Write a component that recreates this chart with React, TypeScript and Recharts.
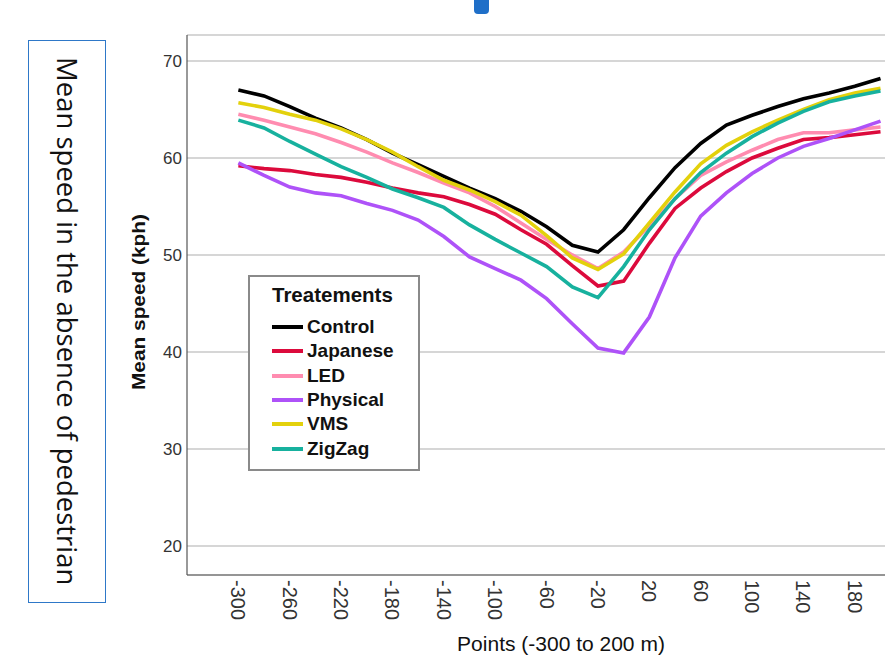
import React from 'react';
import { LineChart, Line, XAxis, YAxis, CartesianGrid, Legend, Label } from 'recharts';

// distance from crossing (m)
const points = [-300, -280, -260, -240, -220, -200, -180, -160, -140, -120, -100, -80, -60, -40, -20, 0, 20, 40, 60, 80, 100, 120, 140, 160, 180, 200];

const control = [67.0, 66.4, 65.3, 64.1, 63.1, 61.9, 60.5, 59.3, 58.1, 56.9, 55.8, 54.5, 52.9, 51.0, 50.3, 52.6, 55.9, 59.0, 61.5, 63.4, 64.4, 65.3, 66.1, 66.7, 67.4, 68.2];
const japanese = [59.2, 58.9, 58.7, 58.3, 58.0, 57.5, 56.9, 56.4, 56.0, 55.2, 54.2, 52.6, 51.1, 48.9, 46.8, 47.3, 51.2, 54.8, 56.9, 58.6, 60.0, 61.0, 61.9, 62.1, 62.4, 62.7];
const led = [64.5, 63.9, 63.2, 62.5, 61.6, 60.6, 59.5, 58.5, 57.4, 56.4, 55.0, 53.3, 51.6, 50.0, 48.6, 50.3, 53.0, 55.8, 58.2, 59.6, 60.8, 61.9, 62.6, 62.6, 62.9, 63.2];
const physical = [59.5, 58.2, 57.0, 56.4, 56.1, 55.3, 54.6, 53.6, 51.9, 49.8, 48.6, 47.4, 45.5, 42.9, 40.4, 39.9, 43.6, 49.7, 54.0, 56.4, 58.4, 60.0, 61.2, 62.0, 62.9, 63.8];
const vms = [65.7, 65.2, 64.5, 63.9, 63.0, 61.9, 60.6, 59.1, 57.7, 56.7, 55.5, 54.1, 52.0, 49.7, 48.5, 50.1, 53.3, 56.5, 59.4, 61.3, 62.7, 63.9, 65.0, 66.0, 66.7, 67.2];
const zigzag = [63.9, 63.1, 61.7, 60.4, 59.1, 58.0, 56.8, 55.9, 54.9, 53.1, 51.6, 50.2, 48.8, 46.7, 45.6, 48.8, 52.6, 55.8, 58.5, 60.5, 62.2, 63.6, 64.8, 65.8, 66.4, 66.9];

const xTicks = [-300, -260, -220, -180, -140, -100, -60, -20, 20, 60, 100, 140, 180];
const yTicks = [20, 30, 40, 50, 60, 70];

const series = [
  { name: 'Control', color: '#000000', values: control },
  { name: 'Japanese', color: '#DC0A3C', values: japanese },
  { name: 'LED', color: '#FF8CB0', values: led },
  { name: 'Physical', color: '#AE52F8', values: physical },
  { name: 'VMS', color: '#E3D10C', values: vms },
  { name: 'ZigZag', color: '#17B19E', values: zigzag },
];

const data = points.map((p, i) => {
  const row: Record<string, number> = { point: p };
  series.forEach((s) => {
    row[s.name] = s.values[i];
  });
  return row;
});

const FONT = '"Liberation Sans", Arial, sans-serif';

const XTick = (props: any) => {
  const { x, y, payload } = props;
  const ty = y + 1;
  return (
    <text
      x={x}
      y={ty}
      transform={`rotate(90, ${x}, ${ty})`}
      textAnchor="start"
      dominantBaseline="central"
      fontSize={20}
      fontFamily={FONT}
      fill="#333"
    >
      {payload.value}
    </text>
  );
};

const LegendBox = () => (
  <div
    style={{
      width: 172,
      height: 196,
      border: '2px solid #8a8a8a',
      background: '#fff',
      fontFamily: FONT,
      boxSizing: 'border-box',
      paddingLeft: 22,
      paddingTop: 6,
    }}
  >
    <div style={{ fontSize: 20.5, fontWeight: 'bold', color: '#111', marginBottom: 8, lineHeight: '24px' }}>Treatements</div>
    {series.map((s) => (
      <div key={s.name} style={{ display: 'flex', alignItems: 'center', height: 24.3 }}>
        <div style={{ width: 31, height: 4, background: s.color, marginRight: 4 }} />
        <span style={{ fontSize: 19, fontWeight: 'bold', color: '#111' }}>{s.name}</span>
      </div>
    ))}
  </div>
);

export default function App() {
  return (
    <div style={{ position: 'absolute', left: 0, top: 0, width: 885, height: 658, background: '#fff', overflow: 'hidden' }}>
      {/* slide decoration */}
      <div style={{ position: 'absolute', left: 474, top: -6, width: 15, height: 20, background: '#1F6FC8', borderRadius: 4 }} />
      <div
        style={{
          position: 'absolute',
          left: 28,
          top: 40,
          width: 78,
          height: 563,
          border: '1.5px solid #2E78C8',
          boxSizing: 'border-box',
          display: 'flex',
          alignItems: 'center',
          justifyContent: 'center',
        }}
      >
        <span style={{ writingMode: 'vertical-rl', fontFamily: '"Open Sans", sans-serif', fontSize: 27.5, color: '#111', whiteSpace: 'nowrap' }}>
          Mean speed in the absence of pedestrian
        </span>
      </div>

      <div style={{ position: 'absolute', left: 0, top: 0 }}>
        <LineChart width={885} height={658} data={data} margin={{ top: 35, right: 0, bottom: 0, left: 0 }}>
          <CartesianGrid vertical={false} stroke="#c8c8c8" strokeWidth={1.5} />
          <XAxis
            dataKey="point"
            type="number"
            domain={[-340, 203.5]}
            ticks={xTicks}
            interval={0}
            height={83}
            tickLine={false}
            tickSize={0}
            tickMargin={4}
            axisLine={{ stroke: '#555', strokeWidth: 1.2 }}
            tick={<XTick />}
            allowDataOverflow
          >
            <Label
              content={(p: any) => {
                const vb = p.viewBox;
                return (
                  <text x={vb.x + vb.width / 2 + 25} y={vb.y + 76} textAnchor="middle" fontSize={21} fontFamily={FONT} fill="#111">
                    Points (-300 to 200 m)
                  </text>
                );
              }}
            />
          </XAxis>
          <YAxis
            type="number"
            domain={[17, 72.68]}
            ticks={yTicks}
            width={187}
            tickLine={false}
            tickSize={0}
            tickMargin={5}
            axisLine={{ stroke: '#555', strokeWidth: 1.2 }}
            tick={{ fontSize: 17, fontFamily: FONT, fill: '#333' }}
            allowDataOverflow
          >
            <Label
              content={(p: any) => {
                const vb = p.viewBox;
                const cx = vb.x + vb.width - 48;
                const cy = 302;
                return (
                  <text
                    x={cx}
                    y={cy}
                    transform={`rotate(-90, ${cx}, ${cy})`}
                    textAnchor="middle"
                    dominantBaseline="central"
                    fontSize={18}
                    fontWeight="bold"
                    fontFamily={FONT}
                    fill="#111"
                    textLength={176}
                    lengthAdjust="spacingAndGlyphs"
                  >
                    Mean speed (kph)
                  </text>
                );
              }}
            />
          </YAxis>
          <Legend
            layout="vertical"
            align="center"
            verticalAlign="middle"
            content={<LegendBox />}
            wrapperStyle={{ left: 248, top: 275, width: 172, height: 196 }}
          />
          {series.map((s) => (
            <Line
              key={s.name}
              type="linear"
              dataKey={s.name}
              stroke={s.color}
              strokeWidth={3.6}
              dot={false}
              activeDot={false}
              isAnimationActive={false}
            />
          ))}
        </LineChart>
      </div>
    </div>
  );
}
